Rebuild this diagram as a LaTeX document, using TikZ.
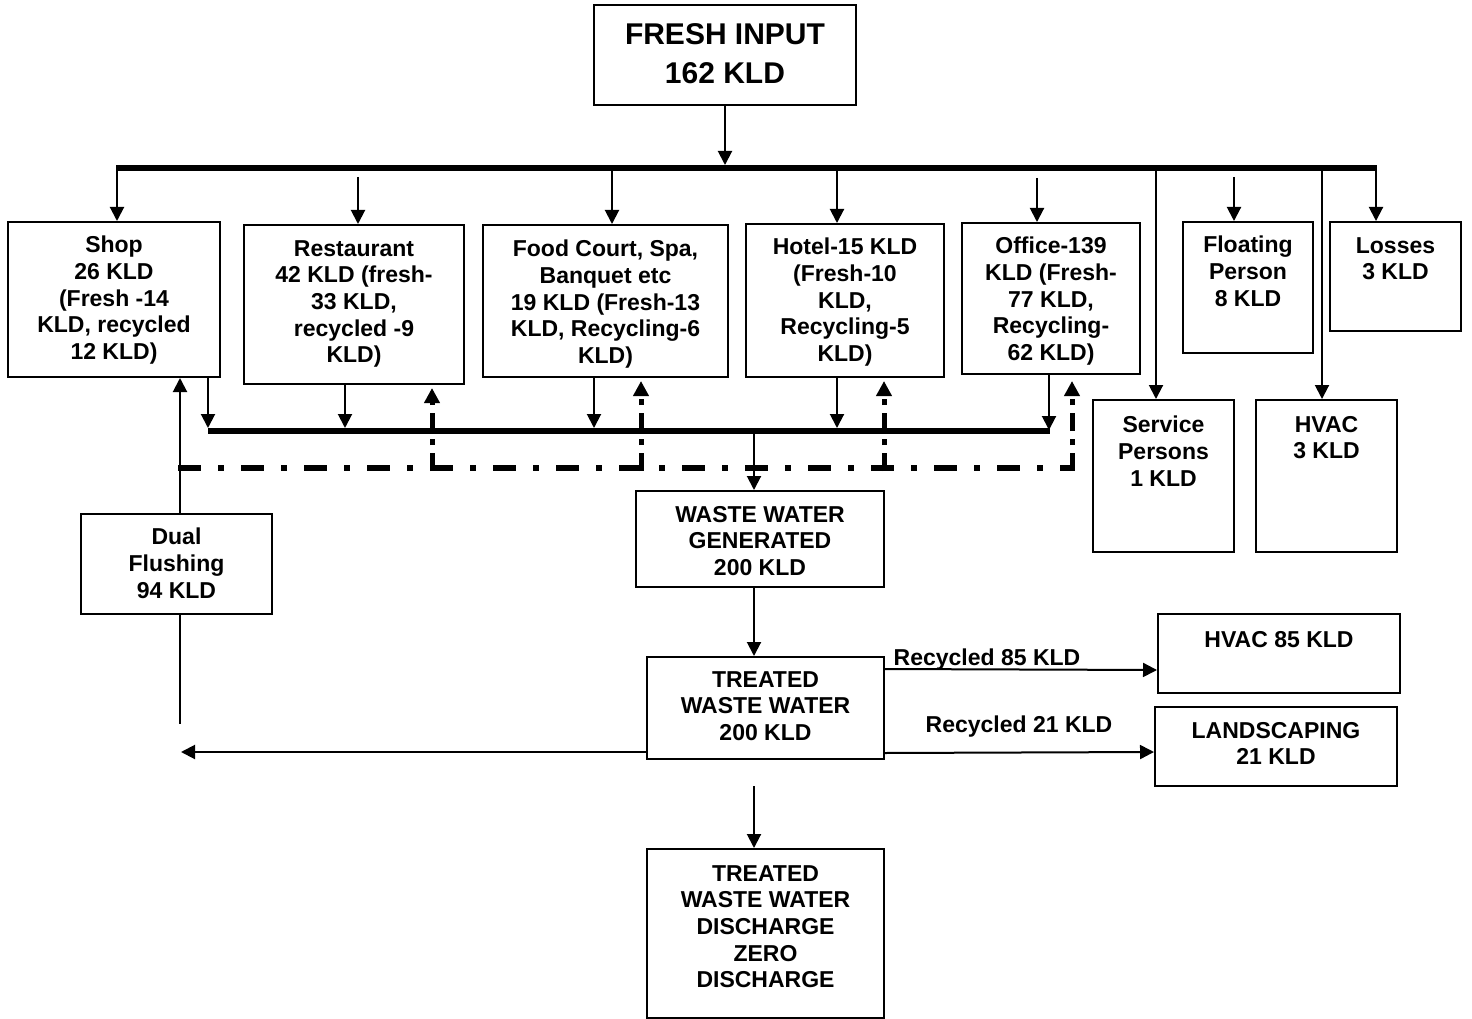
\documentclass[tikz,border=0pt]{standalone}
\usepackage{fontspec}
\setmainfont{Liberation Sans}
\usetikzlibrary{arrows.meta}
\begin{document}
\begin{tikzpicture}[x=1pt,y=-1pt,
  box/.style={draw,line width=2pt,fill=white,inner sep=0pt},
  txt/.style={align=center,inner sep=0pt,font=\bfseries\fontsize{23}{26.7}\selectfont},
  bigtxt/.style={align=center,inner sep=0pt,font=\bfseries\fontsize{30}{39}\selectfont},
  arr/.style={line width=2pt,-{Triangle[length=14pt,width=14pt]}},
  plain/.style={line width=2pt},
  bus/.style={line width=6pt},
  dd/.style={line width=6pt,dash pattern=on 23pt off 17pt on 6pt off 17pt},
  uparr/.style={line width=5pt,dash pattern=on 18pt off 8pt on 6pt off 8pt,-{Triangle[length=15pt,width=15pt]}}
]
\useasboundingbox (0,0) rectangle (1472,1019);

% ---------------- boxes ----------------
\node[box,minimum width=262pt,minimum height=100pt] (fresh) at (725,55) {};
\node[box,minimum width=212pt,minimum height=155pt] (shop) at (114,299.5) {};
\node[box,minimum width=220pt,minimum height=159pt] (rest) at (354,304.5) {};
\node[box,minimum width=245pt,minimum height=152pt] (food) at (605.5,301) {};
\node[box,minimum width=198pt,minimum height=153pt] (hotel) at (845,300.5) {};
\node[box,minimum width=178pt,minimum height=151pt] (office) at (1051,298.5) {};
\node[box,minimum width=130pt,minimum height=131pt] (floating) at (1248,287.5) {};
\node[box,minimum width=131pt,minimum height=109pt] (losses) at (1395.5,276.5) {};
\node[box,minimum width=141pt,minimum height=152pt] (service) at (1163.5,476) {};
\node[box,minimum width=141pt,minimum height=152pt] (hvac) at (1326.5,476) {};
\node[box,minimum width=191pt,minimum height=100pt] (dual) at (176.5,564) {};
\node[box,minimum width=248pt,minimum height=96pt] (ww) at (760,539) {};
\node[box,minimum width=237pt,minimum height=102pt] (treated) at (765.5,708) {};
\node[box,minimum width=242pt,minimum height=79pt] (hvacb) at (1279,653.5) {};
\node[box,minimum width=242pt,minimum height=79pt] (land) at (1276,746.5) {};
\node[box,minimum width=237pt,minimum height=169pt] (disch) at (765.5,933.5) {};

% ---------------- texts ----------------
\node[bigtxt,anchor=north] (freshT) at ([yshift=-19pt]fresh.north) {FRESH INPUT\\162 KLD};
\node[txt,anchor=north] (shopT) at ([yshift=-15pt]shop.north) {Shop\\26 KLD\\(Fresh -14\\KLD, recycled\\12 KLD)};
\node[txt,anchor=north] (restT) at ([yshift=-16pt]rest.north) {Restaurant\\42 KLD (fresh-\\33 KLD,\\recycled -9\\KLD)};
\node[txt,anchor=north] (foodT) at ([yshift=-16pt]food.north) {Food Court, Spa,\\Banquet etc\\19 KLD (Fresh-13\\KLD, Recycling-6\\KLD)};
\node[txt,anchor=north] (hotelT) at ([yshift=-15pt]hotel.north) {Hotel-15 KLD\\(Fresh-10\\KLD,\\Recycling-5\\KLD)};
\node[txt,anchor=north] (officeT) at ([yshift=-15pt]office.north) {Office-139\\KLD (Fresh-\\77 KLD,\\Recycling-\\62 KLD)};
\node[txt,anchor=north] (floatingT) at ([yshift=-15pt]floating.north) {Floating\\Person\\8 KLD};
\node[txt,anchor=north] (lossesT) at ([yshift=-16pt]losses.north) {Losses\\3 KLD};
\node[txt,anchor=north] (serviceT) at ([yshift=-17pt]service.north) {Service\\Persons\\1 KLD};
\node[txt,anchor=north] (hvacT) at ([yshift=-17pt]hvac.north) {HVAC\\3 KLD};
\node[txt,anchor=north] (dualT) at ([yshift=-15pt]dual.north) {Dual\\Flushing\\94 KLD};
\node[txt,anchor=north] (wwT) at ([yshift=-16pt]ww.north) {WASTE WATER\\GENERATED\\200 KLD};
\node[txt,anchor=north] (treatedT) at ([yshift=-15pt]treated.north) {TREATED\\WASTE WATER\\200 KLD};
\node[txt,anchor=north] (hvacbT) at ([yshift=-18pt]hvacb.north) {HVAC 85 KLD};
\node[txt,anchor=north] (landT) at ([yshift=-16pt]land.north) {LANDSCAPING\\21 KLD};
\node[txt,anchor=north] (dischT) at ([yshift=-17pt]disch.north) {TREATED\\WASTE WATER\\DISCHARGE\\ZERO\\DISCHARGE};
\node[txt,anchor=base] (r85) at (987,665) {Recycled 85 KLD};
\node[txt,anchor=base] (r21) at (1019,732) {Recycled 21 KLD};

% ---------------- coordinates ----------------
\coordinate (tbL) at (116,168);
\coordinate (tbR) at (1377,168);
\coordinate (bShop) at (117,168);
\coordinate (bRest) at (358,177);
\coordinate (bFood) at (612,170);
\coordinate (bHotel) at (837,168);
\coordinate (bOffice) at (1037,178);
\coordinate (bService) at (1156,168);
\coordinate (bFloat) at (1234,177);
\coordinate (bHvac) at (1322,168);
\coordinate (bLoss) at (1376,168);
\coordinate (lbL) at (208,431);
\coordinate (lbR) at (1050,431);
\coordinate (tShop) at (208,428);
\coordinate (tRest) at (345,428);
\coordinate (tFood) at (594,428);
\coordinate (tHotel) at (837,428);
\coordinate (tOffice) at (1049,430);
\coordinate (wwIn) at (754,431);
\coordinate (ddL) at (178,468);
\coordinate (ddR) at (1075,468);
\coordinate (uRest) at (432,471);
\coordinate (uFood) at (641,471);
\coordinate (uHotel) at (884,471);
\coordinate (uOffice) at (1072,471);
\coordinate (dTop) at (180,378);
\coordinate (dBot) at (180,724);
\coordinate (lArr) at (181,752);
\coordinate (dischIn) at (754,786);

% ---------------- connectors ----------------
\draw[bus] (tbL) -- (tbR);
\draw[arr] (fresh.south) -- ([yshift=3pt]fresh.south |- tbL);
\draw[arr] (bShop) -- ([xshift=3pt]shop.north);
\draw[arr] (bRest) -- ([xshift=4pt]rest.north);
\draw[arr] (bFood) -- ([xshift=6.5pt]food.north);
\draw[arr] (bHotel) -- ([xshift=-8pt]hotel.north);
\draw[arr] (bOffice) -- ([xshift=-14pt]office.north);
\draw[arr] (bService) -- ([xshift=-7.5pt]service.north);
\draw[arr] (bFloat) -- ([xshift=-14pt]floating.north);
\draw[arr] (bHvac) -- ([xshift=-4.5pt]hvac.north);
\draw[arr] (bLoss) -- ([xshift=-19.5pt]losses.north);

\draw[bus] (lbL) -- (lbR);
\draw[arr] ([xshift=94pt]shop.south) -- (tShop);
\draw[arr] ([xshift=-9pt]rest.south) -- (tRest);
\draw[arr] ([xshift=-11.5pt]food.south) -- (tFood);
\draw[arr] ([xshift=-8pt]hotel.south) -- (tHotel);
\draw[arr] ([xshift=-2pt]office.south) -- (tOffice);

\draw[dd] (ddL) -- (ddR);
\draw[uparr] (uRest) -- ([xshift=78pt,yshift=-3pt]rest.south);
\draw[uparr] (uFood) -- ([xshift=35.5pt,yshift=-3pt]food.south);
\draw[uparr] (uHotel) -- ([xshift=39pt,yshift=-3pt]hotel.south);
\draw[uparr] (uOffice) -- ([xshift=21pt,yshift=-6pt]office.south);

\draw[arr] (wwIn) -- ([xshift=-6pt]ww.north);
\draw[arr] ([xshift=-6pt]ww.south) -- ([xshift=-11.5pt]treated.north);
\draw[arr] (dischIn) -- ([xshift=-11.5pt]disch.north);

\draw[arr] ([xshift=3.5pt]dual.north) -- (dTop);
\draw[plain] ([xshift=3.5pt]dual.south) -- (dBot);
\draw[arr] ([yshift=-44pt]treated.west) -- (lArr);
\draw[arr] ([yshift=-13pt]treated.north east) -- ([yshift=-16.5pt]hvacb.west);
\draw[arr] ([yshift=7pt]treated.south east) -- ([yshift=-5.5pt]land.west);
\end{tikzpicture}
\end{document}
